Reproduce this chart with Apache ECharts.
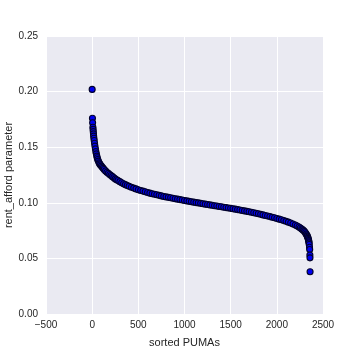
<!DOCTYPE html>
<html>
<head>
<meta charset="utf-8">
<script src="https://cdn.jsdelivr.net/npm/echarts@6/dist/echarts.min.js"></script>
<style>html,body{margin:0;padding:0;background:#fff;}#c{width:360px;height:360px;}</style>
</head>
<body>
<div id="c"></div>
<script>
// Sorted PUMA index and rent_afford parameter values
const pumaIndex = [0,3,5,8,10,12,14,16,19,22,26,30,35,40,45,50,55,60,67,75,82,90,100,110,120,130,145,160,175,190,205,220,235,250,265,280,300,320,340,360,380,400,425,450,475,500,525,550,575,600,625,650,675,700,725,750,775,800,825,850,875,900,925,950,975,1000,1025,1050,1075,1100,1125,1150,1175,1200,1225,1250,1275,1300,1325,1350,1375,1400,1425,1450,1475,1500,1525,1550,1575,1600,1625,1650,1675,1700,1725,1750,1775,1800,1825,1850,1875,1900,1925,1950,1975,2000,2025,2050,2075,2100,2125,2150,2175,2200,2220,2240,2255,2270,2280,2290,2300,2310,2318,2325,2330,2335,2339,2342,2345,2347,2349,2351,2354,2356,2358,2359,2360,2361];
const rentAfford = [0.202,0.176,0.172,0.168,0.166,0.164,0.162,0.160,0.158,0.156,0.1535,0.151,0.1485,0.146,0.144,0.142,0.1405,0.139,0.1375,0.136,0.135,0.134,0.133,0.132,0.131,0.130,0.1287,0.1275,0.1265,0.1255,0.1245,0.1235,0.1225,0.1215,0.1207,0.120,0.119,0.118,0.1171,0.1163,0.1155,0.1148,0.114,0.1132,0.1125,0.1118,0.1111,0.1105,0.1099,0.1093,0.1087,0.1082,0.1077,0.1072,0.1067,0.1062,0.1057,0.1053,0.1049,0.1045,0.1041,0.1037,0.1033,0.1029,0.1025,0.1021,0.1017,0.1013,0.1009,0.1006,0.1002,0.0999,0.0995,0.0992,0.0988,0.0985,0.0981,0.0978,0.0974,0.0971,0.0967,0.0964,0.096,0.0957,0.0953,0.0950,0.0946,0.0943,0.0939,0.0935,0.0931,0.0927,0.0923,0.0919,0.0915,0.0910,0.0906,0.0901,0.0896,0.0891,0.0886,0.0881,0.0876,0.0870,0.0865,0.0859,0.0853,0.0847,0.0840,0.0833,0.0826,0.0818,0.0809,0.0800,0.0791,0.0782,0.0774,0.0765,0.0758,0.0750,0.0741,0.0730,0.0720,0.0710,0.0700,0.0690,0.0680,0.0670,0.0660,0.0650,0.0640,0.0625,0.0600,0.0580,0.0530,0.0505,0.0380];
const xTicks = {min:-500, max:2500, interval:500};
const yTicks = {min:0, max:0.25, interval:0.05};

const data = pumaIndex.map((x,i)=>[x, rentAfford[i]]);
const chart = echarts.init(document.getElementById('c'), null, {renderer:'canvas'});
const font = 'Liberation Sans, Arial, sans-serif';
chart.setOption({
  animation:false,
  backgroundColor:'#ffffff',
  grid:{left:46,right:37,top:36,bottom:46,show:true,backgroundColor:'#EAEAF2',borderWidth:0,outerBoundsMode:'none',containLabel:false},
  xAxis:{
    type:'value', min:xTicks.min, max:xTicks.max, interval:xTicks.interval,
    name:'sorted PUMAs', nameLocation:'middle', nameGap:23, nameMoveOverlap:false,
    nameTextStyle:{color:'#262626',fontSize:11,fontFamily:font},
    axisLine:{show:false}, axisTick:{show:false},
    axisLabel:{color:'#262626',fontSize:10,fontFamily:font,margin:6,formatter:v=>String(v).replace('-','\u2212')},
    splitLine:{show:true,lineStyle:{color:'#ffffff',width:1}}
  },
  yAxis:{
    type:'value', min:yTicks.min, max:yTicks.max, interval:yTicks.interval,
    name:'rent_afford parameter', nameLocation:'middle', nameGap:32, nameMoveOverlap:false,
    nameTextStyle:{color:'#262626',fontSize:11,fontFamily:font},
    axisLine:{show:false}, axisTick:{show:false},
    axisLabel:{color:'#262626',fontSize:10,fontFamily:font,margin:8,formatter:v=>v.toFixed(2)},
    splitLine:{show:true,lineStyle:{color:'#ffffff',width:1}}
  },
  series:[{
    type:'scatter', data:data, symbolSize:6,
    itemStyle:{color:'#0000f0',borderColor:'#00002a',borderWidth:1.1,opacity:1}
  }]
});
</script>
</body>
</html>
